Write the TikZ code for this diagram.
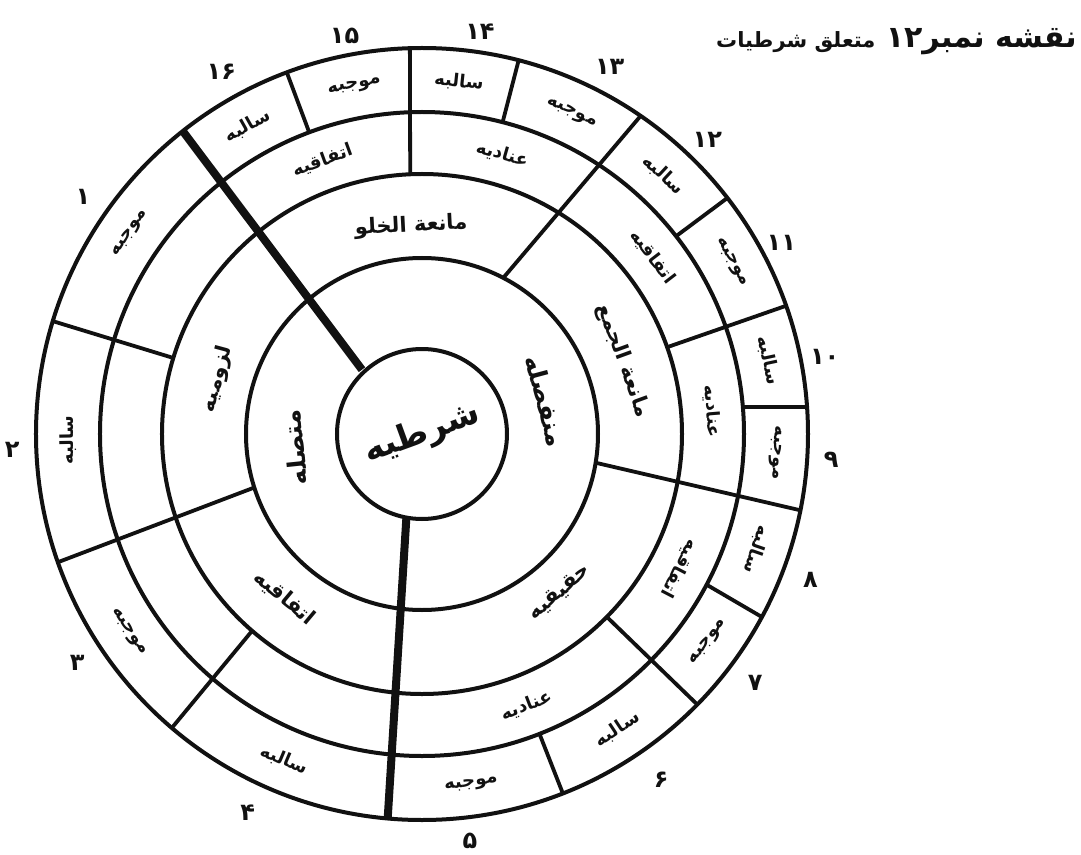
\documentclass[tikz,border=0pt]{standalone}
\usepackage{fontspec}
\usepackage{xcolor}
\usepackage{tikz}
\usetikzlibrary{positioning}
\TeXXeTstate=1
\newfontfamily\urdu[Script=Arabic]{DejaVu Sans}
\definecolor{ink}{HTML}{111111}
\tikzset{
  rim/.style={draw=ink, line width=4pt},
  spoke/.style={draw=ink, line width=3.8pt},
  heavy/.style={draw=ink, line width=8pt},
  cell/.style={font=\urdu\bfseries\fontsize{18}{18}\selectfont, text=ink, inner sep=1pt},
  sect/.style={font=\urdu\bfseries\fontsize{21}{21}\selectfont, text=ink, inner sep=1pt},
  half/.style={font=\urdu\bfseries\fontsize{25}{25}\selectfont, text=ink, inner sep=1pt},
  num/.style={font=\urdu\bfseries\fontsize{24}{24}\selectfont, text=ink, inner sep=0pt}
}
\newcommand{\ur}[1]{{\urdu\beginR #1\endR}}

\begin{document}
\begin{tikzpicture}[x=1pt, y=1pt]
  \useasboundingbox (-422,-420) rectangle (659,434);
  % rings
  \foreach \rr in {85,176,260,322,386}
    \draw[rim] (0,0) circle[radius=\rr pt];
  % dividers
  \foreach \a/\ra/\b/\rb in {92.6/260/91.8/386, 110.5/322/110.5/386,
      75.5/322/75.5/386, 62.5/176/55.5/386, 37.9/322/37.7/386,
      19.5/260/19.4/386, 4.8/322/4/386, -9.4/176/-11.4/386,
      -27.9/322/-28.3/386, -44.7/260/-44.5/386, -68.6/322/-68.6/386,
      229.2/260/229.6/386, 197.7/176/199.4/386, 163/260/163/386}
    \draw[spoke] (\a:\ra) -- (\b:\rb);
  \draw[heavy] (133:88) -- (128.3:386);
  \draw[heavy] (259.5:86) -- (264.9:386);

  \node[half, font=\urdu\bfseries\fontsize{34}{34}\selectfont, rotate=20] (hub) at (0,0) {\ur{شرطیه}};
  \node[half, rotate=-75] (mnf) at (15:128) {\ur{منفصله}};
  \node[half, rotate=96] (mts) at (186:128) {\ur{متصله}};

  \node[sect, rotate=3] (khl) at (93:208) {\ur{مانعة الخلو}};
  \node[sect, rotate=-70] (jma) at (20:214) {\ur{مانعة الجمع}};
  \node[sect, rotate=41] (hqq) at (-49:210) {\ur{حقیقیه}};
  \node[sect, rotate=75] (lzm) at (165:212) {\ur{لزومیه}};
  \node[sect, rotate=-40] (itf) at (230:214) {\ur{اتفاقیه}};

  \foreach \a/\w/\t/\n in {110/20/اتفاقیه/d6, 74/-16/عنادیه/d5,
      37.5/-52.5/اتفاقیه/d4, 4.5/-85.5/عنادیه/d3,
      -27.5/-117.5/اتفاقیه/d2, -69/21/عنادیه/d1}
    \node[cell, rotate=\w] (\n) at (\a:291) {\ur{\t}};

  \foreach \a/\w/\t/\n in {145.5/55.5/موجبه/e1, 181/91/سالبه/e2,
      214/-56/موجبه/e3, 247/-23/سالبه/e4, -82/8/موجبه/e5,
      -56.5/33.5/سالبه/e6, -36/54/موجبه/e7, -19/-109/سالبه/e8,
      -3/-93/موجبه/e9, 12/-78/سالبه/e10, 29/-61/موجبه/e11,
      47/-43/سالبه/e12, 65/-25/موجبه/e13, 84/-6/سالبه/e14,
      101/11/موجبه/e15, 119.5/29.5/سالبه/e16}
    \node[cell, rotate=\w] (\n) at (\a:354) {\ur{\t}};

  \foreach \a/\r/\t/\n in {145/414/۱/n1, 182.2/410/۲/n2, 213.6/414/۳/n3,
      245.3/417/۴/n4, -83.3/410/۵/n5, -55.3/420/۶/n6, -36.8/416/۷/n7,
      -20.6/415/۸/n8, -3.6/410/۹/n9, 10.8/410/۱۰/n10, 28/407/۱۱/n11,
      45.9/410/۱۲/n12, 62.9/412/۱۳/n13, 81.8/406/۱۴/n14, 101/406/۱۵/n15,
      119/414/۱۶/n16}
    \node[num] (\n) at (\a:\r) {\t};

  \node[half, font=\urdu\bfseries\fontsize{30}{30}\selectfont, anchor=east] (ttl) at (656,392) {\ur{نقشه نمبر\beginL ۱۲\endL}};
  \node[sect, left=8pt of ttl] (ttlb) {\ur{متعلق شرطیات}};
\end{tikzpicture}
\end{document}
